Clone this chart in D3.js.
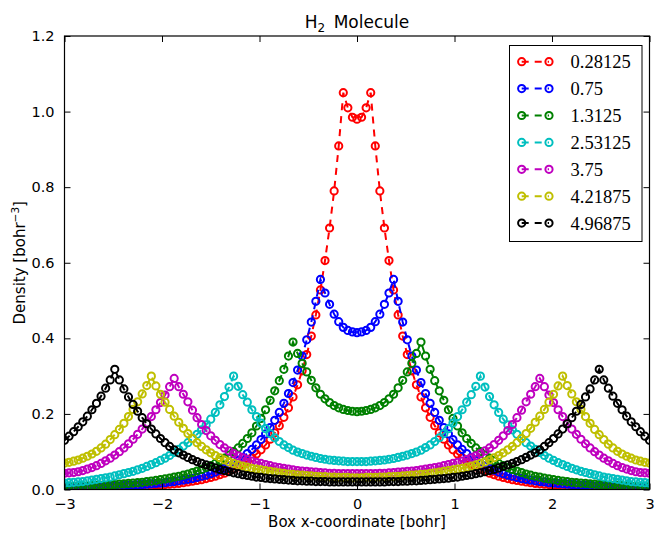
<!DOCTYPE html>
<html>
<head>
<meta charset="utf-8">
<script src="https://cdn.jsdelivr.net/npm/d3@7"></script>
<style>
  body { margin: 0; background: #fff; }
  svg { display: block; }
</style>
</head>
<body>
<svg id="chart" width="655" height="535"></svg>
<script>
// Electron density of H2 along the box axis, one curve per bond length (bohr).
const gridStep = 0.046875;        // grid spacing, 3/64 bohr
const gridStart = -3;
const gridCount = 129;

const bondLengths = ["0.28125", "0.75", "1.3125", "2.53125", "3.75", "4.21875", "4.96875"];
const seriesColors = ["#ff0000", "#0000ff", "#008000", "#00bfbf", "#bf00bf", "#bfbf00", "#000000"];

const xTicks = [-3, -2, -1, 0, 1, 2, 3];
const yTicks = [0.0, 0.2, 0.4, 0.6, 0.8, 1.0, 1.2];

const densityR028 = [
  0.003,0.003,0.003,0.003,0.003,0.004,0.004,0.004,0.004,0.005,
  0.005,0.005,0.006,0.006,0.007,0.007,0.008,0.008,0.009,0.010,
  0.011,0.012,0.013,0.014,0.015,0.016,0.018,0.020,0.022,0.024,
  0.026,0.029,0.032,0.035,0.039,0.043,0.048,0.054,0.060,0.067,
  0.075,0.084,0.094,0.105,0.118,0.133,0.150,0.169,0.191,0.216,
  0.245,0.277,0.314,0.357,0.406,0.462,0.528,0.606,0.692,0.790,
  0.909,1.050,1.010,0.985,0.980,0.985,1.010,1.050,0.909,
  0.790,0.692,0.606,0.528,0.462,0.406,0.357,0.314,0.277,0.245,
  0.216,0.191,0.169,0.150,0.133,0.118,0.105,0.094,0.084,0.075,
  0.067,0.060,0.054,0.048,0.043,0.039,0.035,0.032,0.029,0.026,
  0.024,0.022,0.020,0.018,0.016,0.015,0.014,0.013,0.012,0.011,
  0.010,0.009,0.008,0.008,0.007,0.007,0.006,0.006,0.005,0.005,
  0.005,0.004,0.004,0.004,0.004,0.003,0.003,0.003,0.003,0.003
];

const densityR075 = [
  0.005,0.005,0.006,0.006,0.006,0.006,0.007,0.007,0.007,0.008,
  0.008,0.009,0.009,0.010,0.011,0.011,0.012,0.013,0.014,0.015,
  0.016,0.017,0.018,0.020,0.021,0.023,0.025,0.027,0.029,0.032,
  0.035,0.038,0.042,0.046,0.051,0.056,0.062,0.069,0.077,0.085,
  0.095,0.106,0.118,0.132,0.147,0.164,0.183,0.204,0.228,0.254,
  0.283,0.316,0.353,0.396,0.443,0.498,0.556,0.520,0.490,0.464,
  0.444,0.429,0.421,0.417,0.415,0.417,0.421,0.429,0.444,
  0.464,0.490,0.520,0.556,0.498,0.443,0.396,0.353,0.316,0.283,
  0.254,0.228,0.204,0.183,0.164,0.147,0.132,0.118,0.106,0.095,
  0.085,0.077,0.069,0.062,0.056,0.051,0.046,0.042,0.038,0.035,
  0.032,0.029,0.027,0.025,0.023,0.021,0.020,0.018,0.017,0.016,
  0.015,0.014,0.013,0.012,0.011,0.011,0.010,0.009,0.009,0.008,
  0.008,0.007,0.007,0.007,0.006,0.006,0.006,0.006,0.005,0.005
];

const densityR131 = [
  0.008,0.008,0.008,0.008,0.009,0.009,0.010,0.010,0.011,0.011,
  0.012,0.013,0.014,0.015,0.016,0.017,0.018,0.019,0.021,0.022,
  0.024,0.026,0.028,0.030,0.033,0.035,0.038,0.041,0.045,0.049,
  0.053,0.058,0.063,0.069,0.076,0.083,0.091,0.100,0.110,0.122,
  0.135,0.150,0.168,0.188,0.211,0.236,0.261,0.288,0.318,0.353,
  0.390,0.360,0.334,0.311,0.289,0.269,0.252,0.240,0.230,0.222,
  0.216,0.212,0.209,0.207,0.206,0.207,0.209,0.212,0.216,
  0.222,0.230,0.240,0.252,0.269,0.289,0.311,0.334,0.360,0.390,
  0.353,0.318,0.288,0.261,0.236,0.211,0.188,0.168,0.150,0.135,
  0.122,0.110,0.100,0.091,0.083,0.076,0.069,0.063,0.058,0.053,
  0.049,0.045,0.041,0.038,0.035,0.033,0.030,0.028,0.026,0.024,
  0.022,0.021,0.019,0.018,0.017,0.016,0.015,0.014,0.013,0.012,
  0.011,0.011,0.010,0.010,0.009,0.009,0.008,0.008,0.008,0.008
];

const densityR253 = [
  0.017,0.018,0.019,0.020,0.021,0.023,0.025,0.027,0.029,0.031,
  0.033,0.036,0.039,0.042,0.045,0.048,0.052,0.056,0.061,0.066,
  0.071,0.077,0.083,0.090,0.098,0.106,0.115,0.124,0.135,0.146,
  0.158,0.171,0.186,0.204,0.224,0.246,0.271,0.300,0.273,0.251,
  0.231,0.211,0.193,0.176,0.161,0.148,0.137,0.127,0.118,0.111,
  0.104,0.099,0.095,0.091,0.088,0.085,0.082,0.080,0.078,0.077,
  0.076,0.075,0.074,0.074,0.074,0.074,0.074,0.075,0.076,
  0.077,0.078,0.080,0.082,0.085,0.088,0.091,0.095,0.099,0.104,
  0.111,0.118,0.127,0.137,0.148,0.161,0.176,0.193,0.211,0.231,
  0.251,0.273,0.300,0.271,0.246,0.224,0.204,0.186,0.171,0.158,
  0.146,0.135,0.124,0.115,0.106,0.098,0.090,0.083,0.077,0.071,
  0.066,0.061,0.056,0.052,0.048,0.045,0.042,0.039,0.036,0.033,
  0.031,0.029,0.027,0.025,0.023,0.021,0.020,0.019,0.018,0.017
];

const densityR375 = [
  0.043,0.044,0.045,0.047,0.050,0.054,0.058,0.063,0.069,0.076,
  0.083,0.091,0.100,0.110,0.121,0.133,0.146,0.160,0.176,0.193,
  0.211,0.230,0.250,0.272,0.294,0.272,0.252,0.232,0.210,0.190,
  0.172,0.156,0.142,0.130,0.119,0.110,0.102,0.095,0.089,0.084,
  0.079,0.075,0.072,0.069,0.066,0.063,0.060,0.058,0.056,0.054,
  0.052,0.050,0.049,0.048,0.047,0.046,0.045,0.044,0.043,0.043,
  0.042,0.042,0.042,0.042,0.042,0.042,0.042,0.042,0.042,
  0.043,0.043,0.044,0.045,0.046,0.047,0.048,0.049,0.050,0.052,
  0.054,0.056,0.058,0.060,0.063,0.066,0.069,0.072,0.075,0.079,
  0.084,0.089,0.095,0.102,0.110,0.119,0.130,0.142,0.156,0.172,
  0.190,0.210,0.232,0.252,0.272,0.294,0.272,0.250,0.230,0.211,
  0.193,0.176,0.160,0.146,0.133,0.121,0.110,0.100,0.091,0.083,
  0.076,0.069,0.063,0.058,0.054,0.050,0.047,0.045,0.044,0.043
];

const densityR422 = [
  0.070,0.072,0.075,0.078,0.083,0.088,0.094,0.101,0.110,0.120,
  0.132,0.145,0.159,0.175,0.193,0.212,0.232,0.253,0.275,0.300,
  0.274,0.252,0.231,0.212,0.194,0.178,0.162,0.148,0.135,0.124,
  0.114,0.105,0.097,0.090,0.084,0.078,0.073,0.069,0.065,0.062,
  0.059,0.056,0.054,0.052,0.050,0.048,0.046,0.044,0.043,0.041,
  0.040,0.039,0.038,0.037,0.036,0.035,0.034,0.034,0.033,0.033,
  0.032,0.032,0.032,0.031,0.031,0.031,0.032,0.032,0.032,
  0.033,0.033,0.034,0.034,0.035,0.036,0.037,0.038,0.039,0.040,
  0.041,0.043,0.044,0.046,0.048,0.050,0.052,0.054,0.056,0.059,
  0.062,0.065,0.069,0.073,0.078,0.084,0.090,0.097,0.105,0.114,
  0.124,0.135,0.148,0.162,0.178,0.194,0.212,0.231,0.252,0.274,
  0.300,0.275,0.253,0.232,0.212,0.193,0.175,0.159,0.145,0.132,
  0.120,0.110,0.101,0.094,0.088,0.083,0.078,0.075,0.072,0.070
];

const densityR497 = [
  0.130,0.141,0.153,0.166,0.179,0.194,0.211,0.228,0.247,0.268,
  0.290,0.318,0.290,0.266,0.245,0.225,0.207,0.190,0.174,0.160,
  0.147,0.135,0.124,0.114,0.105,0.097,0.091,0.085,0.079,0.074,
  0.069,0.065,0.061,0.057,0.053,0.050,0.047,0.044,0.042,0.039,
  0.037,0.035,0.033,0.032,0.030,0.029,0.028,0.027,0.026,0.025,
  0.024,0.023,0.023,0.022,0.022,0.021,0.021,0.021,0.020,0.020,
  0.020,0.020,0.020,0.020,0.020,0.020,0.020,0.020,0.020,
  0.020,0.020,0.021,0.021,0.021,0.022,0.022,0.023,0.023,0.024,
  0.025,0.026,0.027,0.028,0.029,0.030,0.032,0.033,0.035,0.037,
  0.039,0.042,0.044,0.047,0.050,0.053,0.057,0.061,0.065,0.069,
  0.074,0.079,0.085,0.091,0.097,0.105,0.114,0.124,0.135,0.147,
  0.160,0.174,0.190,0.207,0.225,0.245,0.266,0.290,0.318,0.290,
  0.268,0.247,0.228,0.211,0.194,0.179,0.166,0.153,0.141,0.130
];

const densitySeries = [densityR028, densityR075, densityR131, densityR253, densityR375, densityR422, densityR497];
const boxX = d3.range(gridCount).map(i => gridStart + i * gridStep);

// ---- layout ----
const svg = d3.select("#chart");
const plot = { left: 64.5, right: 649.5, top: 36, bottom: 489.5 };

const x = d3.scaleLinear().domain([-3, 3]).range([plot.left, plot.right]);
const y = d3.scaleLinear().domain([0, 1.2]).range([plot.bottom, plot.top]);

const fontSans = "'DejaVu Sans', sans-serif";
const fontSerif = "'Liberation Serif', 'DejaVu Serif', serif";

svg.append("defs").append("clipPath").attr("id", "plot-clip")
  .append("rect")
  .attr("x", plot.left).attr("y", plot.top)
  .attr("width", plot.right - plot.left).attr("height", plot.bottom - plot.top);

// ---- curves: dashed line plus open circle markers ----
const curves = svg.append("g").attr("clip-path", "url(#plot-clip)");
const line = d3.line().x((d, i) => x(boxX[i])).y(d => y(d));
const markerR = 3.6;
const markerStroke = 2;

densitySeries.forEach((values, k) => {
  const g = curves.append("g");
  g.append("path")
    .attr("d", line(values))
    .attr("fill", "none")
    .attr("stroke", seriesColors[k])
    .attr("stroke-width", 2)
    .attr("stroke-dasharray", "7,6");
  g.selectAll("circle").data(values).join("circle")
    .attr("cx", (d, i) => x(boxX[i]))
    .attr("cy", d => y(d))
    .attr("r", markerR)
    .attr("fill", "none")
    .attr("stroke", seriesColors[k])
    .attr("stroke-width", markerStroke);
});

// ---- axes: ticks point inward on all four sides ----
const tickLen = 6;
const axisBottom = d3.axisBottom(x).tickValues(xTicks).tickSize(-tickLen).tickPadding(9)
  .tickFormat(d => d3.format("d")(d).replace("-", "\u2212"));
const axisTop = d3.axisTop(x).tickValues(xTicks).tickSize(-tickLen).tickFormat("");
const axisLeft = d3.axisLeft(y).tickValues(yTicks).tickSize(-tickLen).tickPadding(10)
  .tickFormat(d3.format(".1f"));
const axisRight = d3.axisRight(y).tickValues(yTicks).tickSize(-tickLen).tickFormat("");

function styleAxis(g) {
  g.select(".domain").remove();
  g.selectAll(".tick line").attr("stroke", "#000").attr("stroke-width", 1);
  g.selectAll(".tick text").attr("fill", "#000")
    .attr("font-family", fontSans).attr("font-size", 14.5);
}

svg.append("g").attr("transform", `translate(0,${plot.bottom})`).call(axisBottom).call(styleAxis);
svg.append("g").attr("transform", `translate(0,${plot.top})`).call(axisTop).call(styleAxis);
svg.append("g").attr("transform", `translate(${plot.left},0)`).call(axisLeft).call(styleAxis);
svg.append("g").attr("transform", `translate(${plot.right},0)`).call(axisRight).call(styleAxis);

// frame
svg.append("rect")
  .attr("x", plot.left).attr("y", plot.top)
  .attr("width", plot.right - plot.left).attr("height", plot.bottom - plot.top)
  .attr("fill", "none").attr("stroke", "#000").attr("stroke-width", 1.2);

// ---- title and axis labels ----
const title = svg.append("text")
  .attr("x", (plot.left + plot.right) / 2).attr("y", 28)
  .attr("text-anchor", "middle")
  .attr("font-family", fontSans).attr("font-size", 17)
  .attr("fill", "#000");
title.append("tspan").text("H");
title.append("tspan").attr("font-size", 12).attr("dy", 4).text("2");
title.append("tspan").attr("dy", -4).text("\u2002Molecule");

svg.append("text")
  .attr("x", (plot.left + plot.right) / 2).attr("y", 527)
  .attr("text-anchor", "middle")
  .attr("font-family", fontSans).attr("font-size", 15)
  .attr("fill", "#000")
  .text("Box x-coordinate [bohr]");

const ylab = svg.append("text")
  .attr("transform", `translate(25,${(plot.top + plot.bottom) / 2}) rotate(-90)`)
  .attr("text-anchor", "middle")
  .attr("font-family", fontSans).attr("font-size", 15)
  .attr("fill", "#000");
ylab.append("tspan").text("Density [bohr");
ylab.append("tspan").attr("font-size", 10.5).attr("dy", -6).text("\u22123");
ylab.append("tspan").attr("dy", 6).text("]");

// ---- legend ----
const legend = { left: 509.5, top: 45.5, width: 132.5, height: 196, rowTop: 61.7, rowStep: 26.9 };
const lg = svg.append("g");
lg.append("rect")
  .attr("x", legend.left).attr("y", legend.top)
  .attr("width", legend.width).attr("height", legend.height)
  .attr("fill", "#fff").attr("stroke", "#000").attr("stroke-width", 1);

bondLengths.forEach((label, k) => {
  const cy = legend.rowTop + k * legend.rowStep;
  const row = lg.append("g");
  row.append("line")
    .attr("x1", 521.7).attr("x2", 549).attr("y1", cy).attr("y2", cy)
    .attr("stroke", seriesColors[k]).attr("stroke-width", 2)
    .attr("stroke-dasharray", "7,6");
  [521.7, 549].forEach(cx => {
    row.append("circle").attr("cx", cx).attr("cy", cy).attr("r", markerR)
      .attr("fill", "none").attr("stroke", seriesColors[k]).attr("stroke-width", markerStroke);
  });
  row.append("text")
    .attr("x", 570.5).attr("y", cy).attr("dy", "0.35em")
    .attr("font-family", fontSerif).attr("font-size", 18.5)
    .attr("fill", "#000")
    .text(label);
});
</script>
</body>
</html>
